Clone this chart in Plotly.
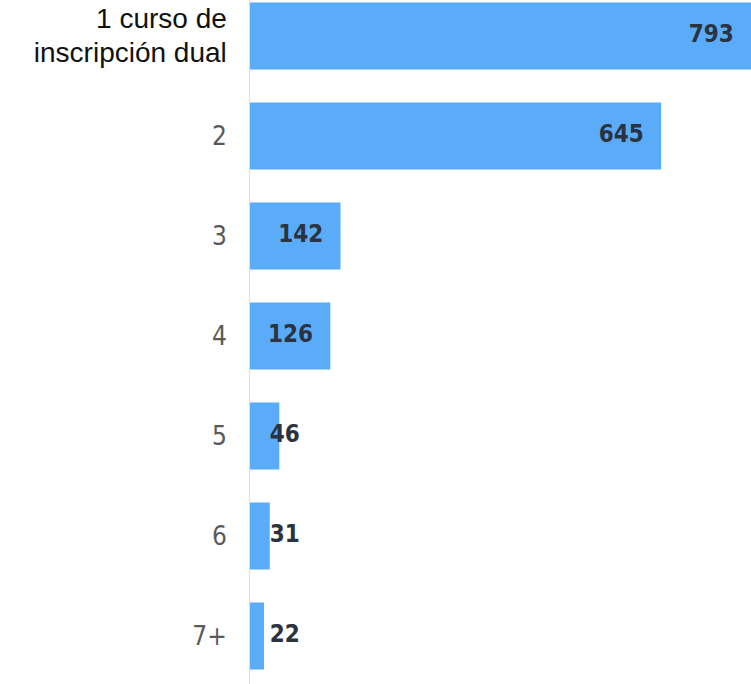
import plotly.graph_objects as go

categories = ["1 curso de inscripción dual", "2", "3", "4", "5", "6", "7+"]
values = [793, 645, 142, 126, 46, 31, 22]
tick_labels = [
    "<span style='font-family:Liberation Sans, Arial, sans-serif;font-size:28px;color:#111111'>1 curso de<br>inscripción dual</span>",
    "2", "3", "4", "5", "6", "7+",
]

BAR_COLOR = "#5aabf8"
LABEL_FONT = "DejaVu Sans Condensed, Liberation Sans Narrow, Roboto, sans-serif"
X_MAX = 786  # la barra mayor queda cortada en el borde derecho, como en el original

# etiquetas de valor: al final de la barra, o al inicio si la barra es corta
long_bar = [v > 100 for v in values]
label_x = [min(v, X_MAX) if lb else 0 for v, lb in zip(values, long_bar)]
label_pos = ["middle left" if lb else "middle right" for lb in long_bar]
label_pad = [26 if lb else 30 for lb in long_bar]

fig = go.Figure()
fig.add_trace(
    go.Bar(
        x=values,
        y=categories,
        orientation="h",
        marker=dict(color=BAR_COLOR, line=dict(width=0)),
        hoverinfo="skip",
    )
)
fig.add_trace(
    go.Scatter(
        x=label_x,
        y=categories,
        mode="markers+text",
        text=[str(v) for v in values],
        textposition=label_pos,
        marker=dict(size=label_pad, opacity=0),
        textfont=dict(family=LABEL_FONT, size=24, color="#2b3340", weight="bold"),
        cliponaxis=False,
        hoverinfo="skip",
    )
)

fig.update_layout(
    width=751,
    height=684,
    margin=dict(l=250, r=0, t=0, b=0),
    plot_bgcolor="white",
    paper_bgcolor="white",
    bargap=0.33,
    showlegend=False,
    xaxis=dict(
        range=[0, X_MAX],
        visible=False,
        showgrid=False,
        zeroline=False,
        automargin=False,
    ),
    yaxis=dict(
        type="category",
        range=[6.48, -0.36],
        tickvals=categories,
        ticktext=tick_labels,
        showgrid=False,
        zeroline=False,
        showline=True,
        linecolor="#dedede",
        linewidth=1,
        ticks="",
        automargin=False,
        ticklabelstandoff=17,
        tickfont=dict(family=LABEL_FONT, size=26, color="#5a5a5a"),
    ),
)

fig.write_html(
    "out.html",
    config={"displayModeBar": False},
    post_script="document.body.style.margin='0';",
)
